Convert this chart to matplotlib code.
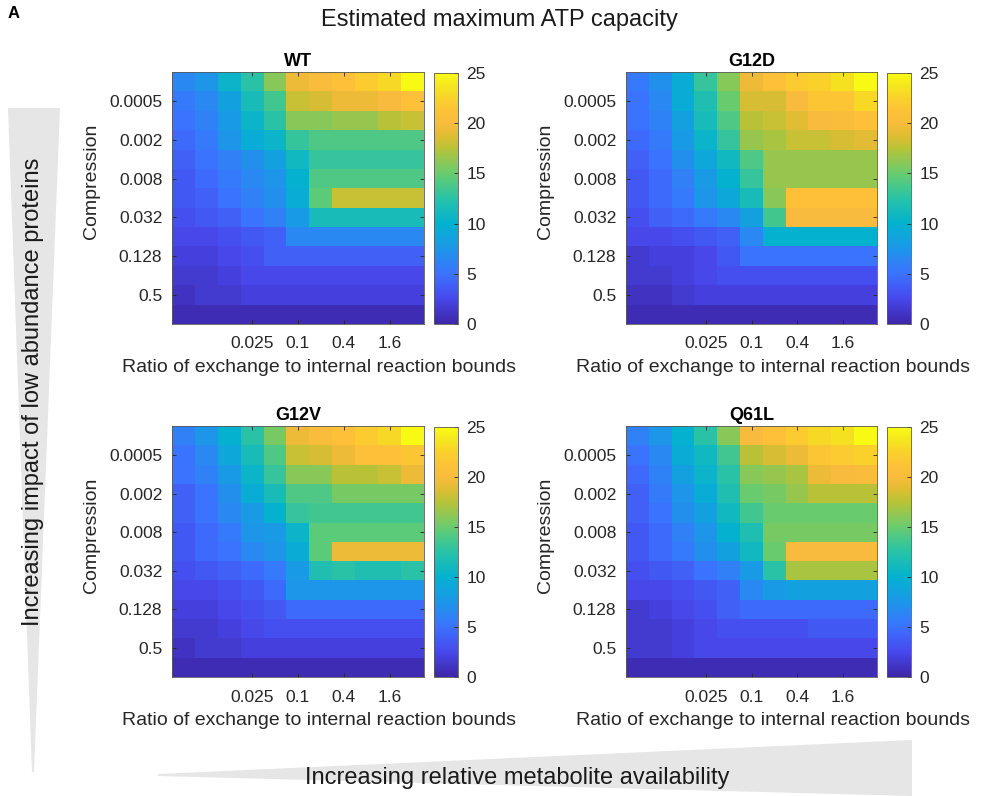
import numpy as np
import matplotlib
matplotlib.use('Agg')
import matplotlib.pyplot as plt
from matplotlib.colors import LinearSegmentedColormap
from matplotlib.patches import Polygon

plt.rcParams['font.family'] = ['Liberation Sans', 'DejaVu Sans']

# axis values (columns: exchange ratio, rows: compression)
ratio = [0.003125, 0.00625, 0.0125, 0.025, 0.05, 0.1, 0.2, 0.4, 0.8, 1.6, 3.2]
compression = [0.00025, 0.0005, 0.001, 0.002, 0.004, 0.008, 0.016, 0.032,
               0.064, 0.128, 0.25, 0.5, 1]
x_tick_labels = ['0.025', '0.1', '0.4', '1.6']
y_tick_labels = ['0.0005', '0.002', '0.008', '0.032', '0.128', '0.5']
cbar_ticks = [0, 5, 10, 15, 20, 25]

panel_names = ['WT', 'G12D', 'G12V', 'Q61L']

# estimated max ATP, rows top->bottom, cols left->right
atp_wt = [
    [6.5, 7.5, 10.5, 12.5, 16, 19.5, 20.5, 21, 22, 23, 25],
    [5.5, 6.5, 8.5, 11.5, 13.5, 18, 18.5, 19.5, 19.5, 20, 21],
    [5, 6, 8, 10.5, 12.5, 16, 16, 16.5, 16.5, 17.5, 18],
    [4.5, 5.5, 7.5, 9.5, 10.5, 13, 14, 14, 14, 14, 14],
    [4, 5, 6, 7, 8.5, 11, 13, 13, 13, 13, 13],
    [3.5, 4.5, 5.5, 6.5, 7.5, 10, 14, 14, 14, 14, 14],
    [3.5, 4, 5, 6, 7, 9.5, 14.5, 18, 18, 18, 18],
    [3, 3.5, 4, 5, 6, 8, 11.5, 11.5, 11.5, 11.5, 11.5],
    [2.5, 2.5, 3, 3.5, 4, 6.5, 6.5, 6.5, 6.5, 6.5, 6.5],
    [2, 2, 2.5, 3, 4, 4, 4, 4, 4, 4, 4],
    [1.5, 1.5, 2, 2.5, 2.5, 2.5, 2.5, 2.5, 2.5, 2.5, 2.5],
    [1, 1.5, 1.5, 2, 2, 2, 2, 2, 2, 2, 2],
    [0.5, 0.5, 0.5, 0.5, 0.5, 0.5, 0.5, 0.5, 0.5, 0.5, 0.5],
]
atp_g12d = [
    [5.5, 7, 9.5, 13, 16, 19.5, 21, 22, 22.5, 23.5, 25],
    [5, 6.5, 9.5, 12, 15, 18.5, 18.5, 20, 21.5, 21.5, 23],
    [5, 6, 8.5, 11.5, 14, 17.5, 18, 19, 20, 20.5, 21],
    [4.5, 5.5, 8, 10.5, 13, 16.5, 17, 18, 18, 18.5, 19],
    [4, 5, 7, 9, 11, 14, 16.5, 16.5, 16.5, 16.5, 16.5],
    [3.5, 4.5, 6, 8, 10, 13, 16.5, 16.5, 16.5, 16.5, 16.5],
    [3.5, 4.5, 5.5, 7.5, 9, 11.5, 16, 21, 21, 21, 21],
    [3, 4, 4.5, 5.5, 6.5, 8.5, 13.5, 20, 20, 20, 20],
    [2.5, 2.5, 3, 3.5, 4, 6.5, 10, 10, 10, 10, 10],
    [1.5, 2, 2, 2.5, 3.5, 5, 5, 5, 5, 5, 5],
    [1.5, 1.5, 2, 2.5, 3, 3, 3, 3, 3, 3, 3],
    [1, 1, 1.5, 2, 2, 2, 2, 2, 2, 2, 2],
    [0.5, 0.5, 0.5, 0.5, 0.5, 0.5, 0.5, 0.5, 0.5, 0.5, 0.5],
]
atp_g12v = [
    [6, 7.5, 10, 12.5, 15.5, 19.5, 20.5, 21, 22, 23, 25],
    [5, 6.5, 9, 11.5, 14, 18, 18.5, 19.5, 21, 21, 21.5],
    [5, 6, 8, 10.5, 13, 16, 16, 17.5, 17.5, 18, 19.5],
    [4, 5, 7, 9.5, 11.5, 14, 14, 15.5, 15.5, 15.5, 15.5],
    [4, 5, 6.5, 8, 10, 13, 13.5, 13.5, 13.5, 13.5, 13.5],
    [3.5, 4.5, 5.5, 7.5, 8, 10.5, 14.5, 14.5, 14.5, 14.5, 14.5],
    [3.5, 4.5, 5, 6.5, 7.5, 9.5, 14.5, 19.5, 19.5, 19.5, 19.5],
    [3, 3.5, 4, 4.5, 5.5, 8, 12, 12.5, 12, 12, 12.5],
    [2.5, 2.5, 3, 3.5, 4.5, 7.5, 7.5, 7.5, 7.5, 7.5, 7.5],
    [2, 2, 2.5, 3, 3.5, 4.5, 4.5, 4.5, 4.5, 4.5, 4.5],
    [1.5, 1.5, 2, 2.5, 3, 3, 3, 3, 3, 3, 3],
    [1, 1.5, 1.5, 2, 2, 2, 2, 2, 2, 2, 2],
    [0.5, 0.5, 0.5, 0.5, 0.5, 0.5, 0.5, 0.5, 0.5, 0.5, 0.5],
]
atp_q61l = [
    [6, 7.5, 10, 12.5, 16, 20, 21, 22, 23, 23.5, 25],
    [5, 6.5, 9.5, 11, 13.5, 17.5, 18.5, 19.5, 21.5, 22, 22.5],
    [4.5, 6, 8.5, 10.5, 12.5, 16, 16.5, 17, 19.5, 20, 20.5],
    [4, 5.5, 7.5, 9.5, 12, 15, 15.5, 16.5, 17.5, 17.5, 17.5],
    [4, 5, 7, 8.5, 11, 13.5, 15, 15, 15, 15, 15],
    [3.5, 4.5, 6, 7.5, 10, 12, 15.5, 15.5, 15.5, 15.5, 15.5],
    [3.5, 4.5, 5.5, 7, 8.5, 11, 15, 20, 20, 20, 20],
    [3, 3.5, 4, 5, 6, 8, 12.5, 17, 17, 17, 17],
    [2.5, 2.5, 3, 3.5, 4, 6.5, 8, 8.5, 8.5, 8.5, 8.5],
    [1.5, 2, 2.5, 3, 4, 4.5, 4.5, 4.5, 4.5, 4.5, 4.5],
    [1.5, 1.5, 2, 2.5, 3, 3, 3, 3, 3.5, 3.5, 3.5],
    [1.5, 1.5, 2, 2.5, 2.5, 2.5, 2.5, 2.5, 2.5, 2.5, 2.5],
    [0.5, 0.5, 0.5, 0.5, 0.5, 0.5, 0.5, 0.5, 0.5, 0.5, 0.5],
]

# rough parula (position, rgb)
parula_anchors = [
    (0.00, (0.2422, 0.1504, 0.6603)), (0.10, (0.2796, 0.2826, 0.9264)),
    (0.20, (0.2305, 0.4516, 0.9968)), (0.30, (0.1130, 0.5911, 0.9132)),
    (0.40, (0.0157, 0.6963, 0.8156)), (0.50, (0.1565, 0.7630, 0.6572)),
    (0.60, (0.4080, 0.8011, 0.4327)), (0.70, (0.7200, 0.7650, 0.2200)),
    (0.75, (0.8700, 0.7400, 0.2000)), (0.80, (0.9750, 0.7350, 0.2400)),
    (0.85, (0.9950, 0.7600, 0.2200)), (0.90, (0.9800, 0.8200, 0.1700)),
    (0.95, (0.9600, 0.9000, 0.1200)), (1.00, (0.9769, 0.9839, 0.0805)),
]
parula = LinearSegmentedColormap.from_list('parula', parula_anchors, N=256)

W, H = 982, 796


def px_rect(x0, y0, x1, y1):
    return [x0 / W, 1 - y1 / H, (x1 - x0) / W, (y1 - y0) / H]


fig = plt.figure(figsize=(W / 100, H / 100), dpi=100)

# grey wedges
fig.patches.append(Polygon([(8 / W, 1 - 108 / H), (60 / W, 1 - 108 / H), (34 / W, 1 - 772 / H), (32 / W, 1 - 772 / H)],
                           closed=True, transform=fig.transFigure, facecolor='#e6e6e6', edgecolor='none', zorder=0))
fig.patches.append(Polygon([(158 / W, 1 - 774 / H), (912 / W, 1 - 740 / H), (912 / W, 0), (158 / W, 1 - 776 / H)],
                           closed=True, transform=fig.transFigure, facecolor='#e6e6e6', edgecolor='none', zorder=0))

panels = [
    (atp_wt, (172, 72, 424, 324), (434, 73, 458, 324)),
    (atp_g12d, (626, 72, 877, 324), (887, 73, 911, 324)),
    (atp_g12v, (172, 426, 424, 677), (434, 427, 458, 677)),
    (atp_q61l, (626, 426, 877, 677), (887, 427, 911, 677)),
]

txt_col = '#262626'
for name, (data, rect, cb_rect) in zip(panel_names, panels):
    ax = fig.add_axes(px_rect(*rect))
    im = ax.imshow(np.array(data), cmap=parula, vmin=0, vmax=25, aspect='auto', interpolation='nearest')
    ax.set_xticks([ratio.index(float(t)) for t in x_tick_labels])
    ax.set_xticklabels(x_tick_labels)
    ax.set_yticks([compression.index(float(t)) for t in y_tick_labels])
    ax.set_yticklabels(y_tick_labels)
    ax.tick_params(direction='in', length=3, width=0.6, color=txt_col, labelcolor=txt_col,
                   labelsize=12.5, top=True, right=True)
    ax.tick_params(axis='x', pad=9)
    ax.tick_params(axis='y', pad=7)
    for sp in ax.spines.values():
        sp.set_linewidth(0.6)
        sp.set_color('0.35')
    ax.set_title(name, fontsize=13, fontweight='bold', color='black', pad=4)
    ax.set_xlabel('Ratio of exchange to internal reaction bounds', fontsize=14, color=txt_col)
    ax.xaxis.set_label_coords(0.585, -0.14)
    ax.set_ylabel('Compression', fontsize=14, color=txt_col)
    ax.yaxis.set_label_coords(-0.285, 0.565)

    cax = fig.add_axes(px_rect(*cb_rect))
    cb = fig.colorbar(im, cax=cax, ticks=cbar_ticks)
    cb.outline.set_linewidth(0.6)
    cb.outline.set_edgecolor('0.35')
    cax.tick_params(direction='in', length=3, width=0.6, color=txt_col, labelcolor=txt_col,
                    labelsize=12.5, pad=6)

fig.text(499 / W, 1 - 20 / H, 'Estimated maximum ATP capacity', fontsize=17, ha='center', va='center', color='#1a1a1a')
fig.text(8 / W, 1 - 14 / H, 'A', fontsize=12, fontweight='bold', ha='left', va='center')
fig.text(33 / W, 1 - 392 / H, 'Increasing impact of low abundance proteins', fontsize=17,
         rotation=90, ha='center', va='center', color='#1a1a1a')
fig.text(517 / W, 1 - 778 / H, 'Increasing relative metabolite availability', fontsize=17,
         ha='center', va='center', color='#1a1a1a')

fig.savefig('out.png', dpi=100)
